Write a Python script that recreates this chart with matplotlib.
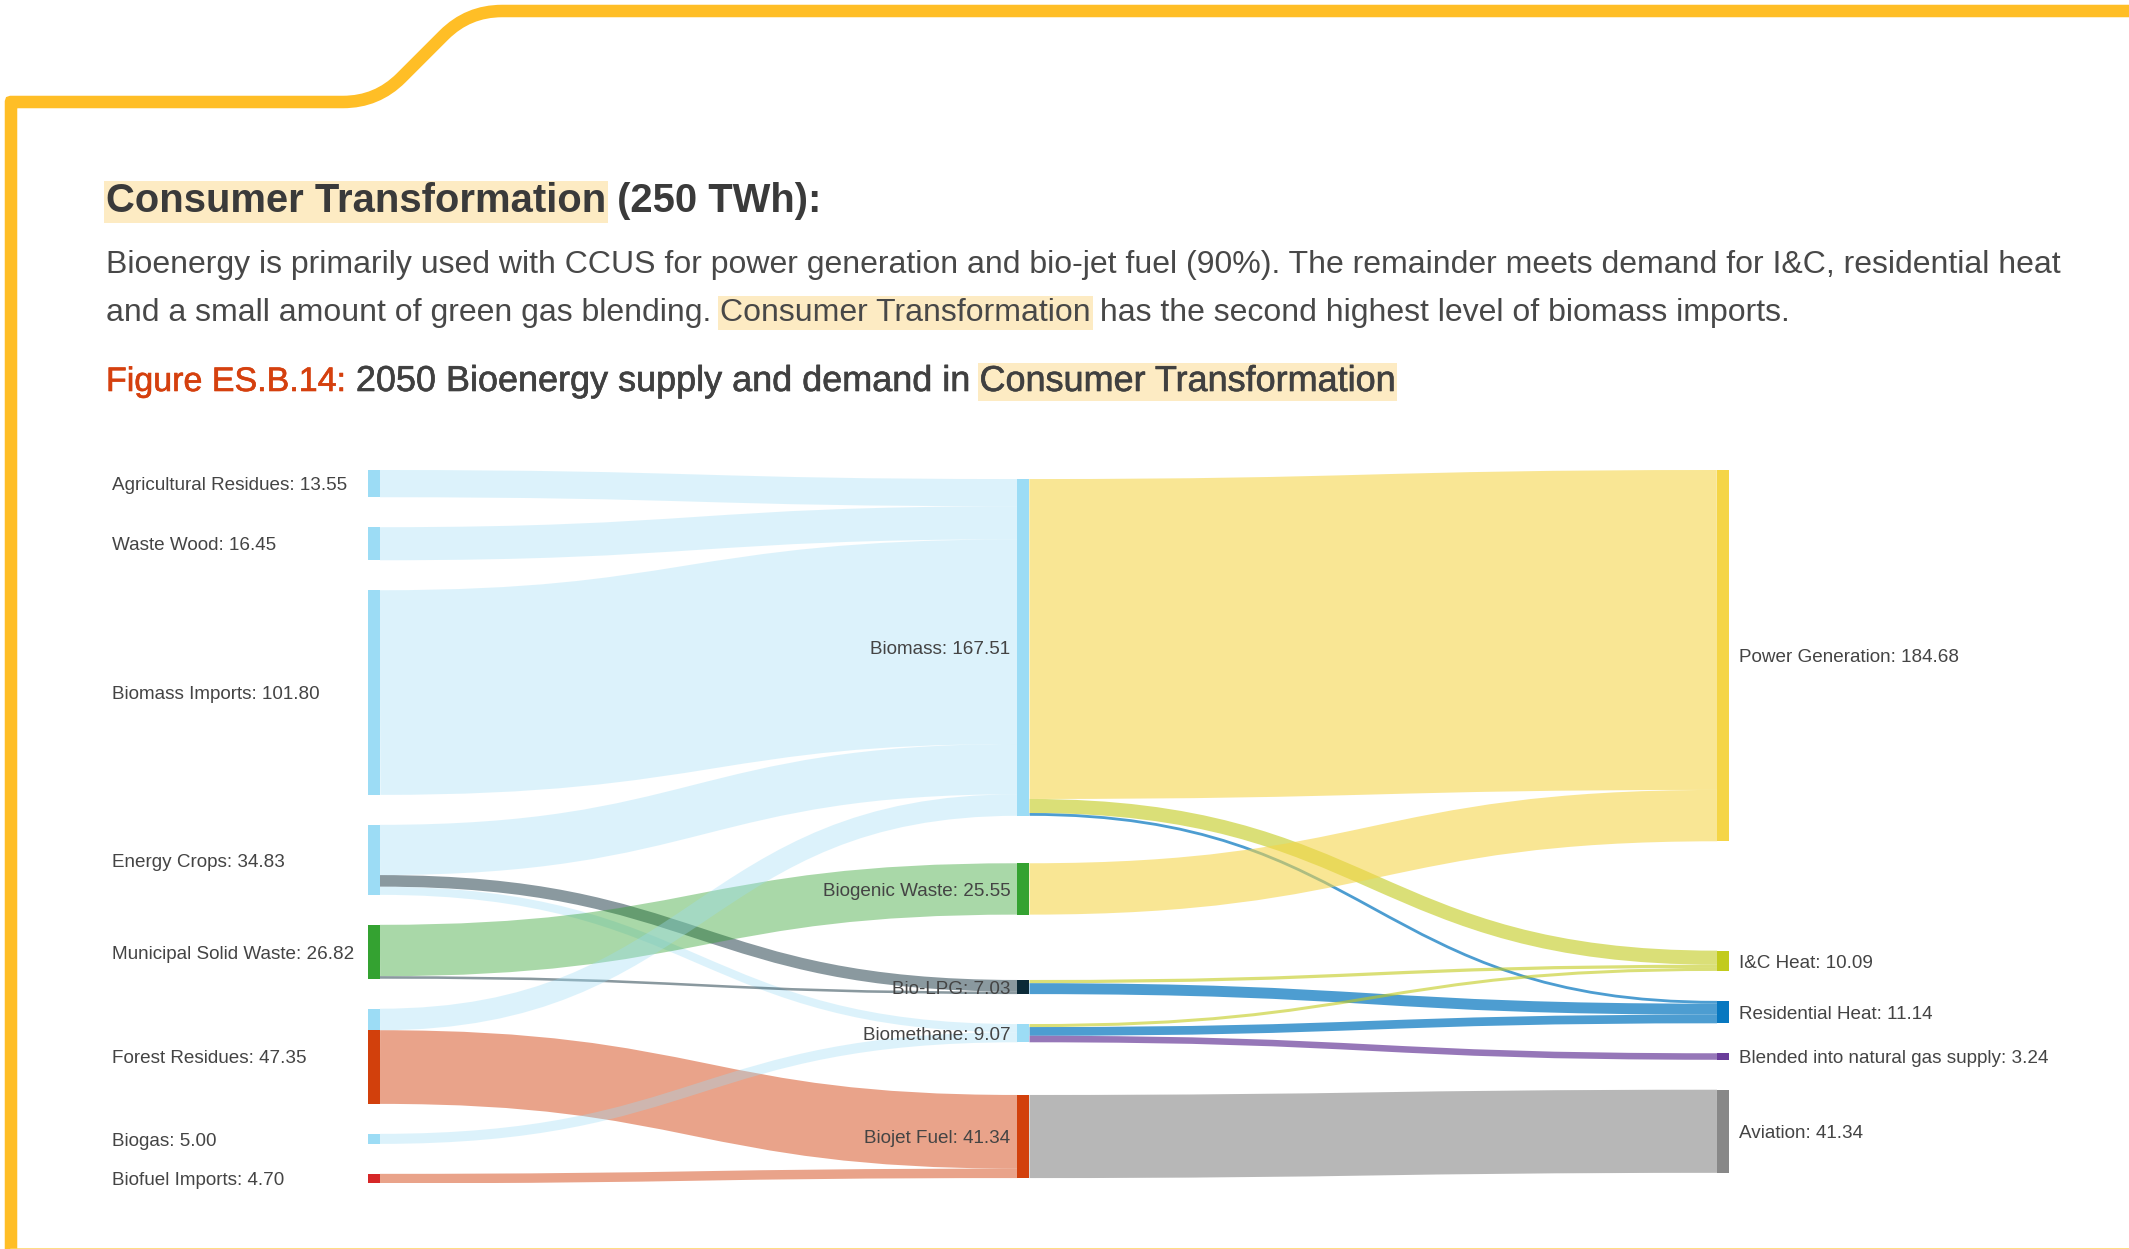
import matplotlib
matplotlib.use("Agg")
import matplotlib.pyplot as plt
import matplotlib.patheffects as pe
import matplotlib.transforms as mtransforms
from matplotlib.colors import to_rgba
from matplotlib.font_manager import FontProperties
from matplotlib.patches import PathPatch, Rectangle
from matplotlib.path import Path
import numpy as np

plt.rcParams['font.family'] = ['Liberation Sans', 'DejaVu Sans']

# ---- data ----
nodes = ["Agricultural Residues", "Waste Wood", "Biomass Imports", "Energy Crops",
         "Municipal Solid Waste", "Forest Residues", "Biogas", "Biofuel Imports",
         "Biomass", "Biogenic Waste", "Bio-LPG", "Biomethane", "Biojet Fuel",
         "Power Generation", "I&C Heat", "Residential Heat",
         "Blended into natural gas supply", "Aviation"]
node_values = [13.55, 16.45, 101.80, 34.83, 26.82, 47.35, 5.00, 4.70,
               167.51, 25.55, 7.03, 9.07, 41.34,
               184.68, 10.09, 11.14, 3.24, 41.34]
node_column = [0] * 8 + [1] * 5 + [2] * 5

link_source = ["Agricultural Residues", "Waste Wood", "Biomass Imports",
               "Energy Crops", "Energy Crops", "Energy Crops",
               "Municipal Solid Waste", "Municipal Solid Waste",
               "Forest Residues", "Forest Residues", "Biogas", "Biofuel Imports",
               "Biomass", "Biomass", "Biomass", "Biogenic Waste",
               "Bio-LPG", "Bio-LPG", "Biomethane", "Biomethane", "Biomethane",
               "Biojet Fuel"]
link_target = ["Biomass", "Biomass", "Biomass",
               "Biomass", "Bio-LPG", "Biomethane",
               "Biogenic Waste", "Bio-LPG",
               "Biomass", "Biojet Fuel", "Biomethane", "Biojet Fuel",
               "Power Generation", "I&C Heat", "Residential Heat", "Power Generation",
               "I&C Heat", "Residential Heat", "I&C Heat", "Residential Heat",
               "Blended into natural gas supply",
               "Aviation"]
link_value = [13.55, 16.45, 101.80,
              25.00, 5.76, 4.07,
              25.55, 1.27,
              10.71, 36.64, 5.00, 4.70,
              159.13, 6.99, 1.39, 25.55,
              1.60, 5.43, 1.50, 4.33, 3.24,
              41.34]

title_hl = "Consumer Transformation"
title_rest = " (250 TWh):"
para_line1 = ("Bioenergy is primarily used with CCUS for power generation and bio-jet fuel "
              "(90%). The remainder meets demand for I&C, residential heat")
para_line2 = ["and a small amount of green gas blending.", " ", "Consumer Transformation",
              " has the second highest level of biomass imports."]
fig_label = "Figure ES.B.14:"
fig_caption = " 2050 Bioenergy supply and demand in "
fig_caption_hl = "Consumer Transformation"

# ---- style ----
W, H, DPI = 2129, 1249, 100
light_blue = "#9cdcf5"
node_colors = {
    "Agricultural Residues": light_blue, "Waste Wood": light_blue,
    "Biomass Imports": light_blue, "Energy Crops": light_blue,
    "Municipal Solid Waste": "#34a231", "Forest Residues": None,
    "Biogas": light_blue, "Biofuel Imports": "#d62728",
    "Biomass": light_blue, "Biogenic Waste": "#34a231", "Bio-LPG": "#0b2a38",
    "Biomethane": light_blue, "Biojet Fuel": "#d2400c",
    "Power Generation": "#f5d547", "I&C Heat": "#c2cb1c",
    "Residential Heat": "#0878c0", "Blended into natural gas supply": "#6a3d9a",
    "Aviation": "#888888",
}
link_alpha = {
    "Biomass": 0.35, "Biogenic Waste": 0.42, "Bio-LPG": 0.48, "Biomethane": 0.35,
    "Biojet Fuel": 0.48, "Power Generation": 0.58, "I&C Heat": 0.6,
    "Residential Heat": 0.72, "Blended into natural gas supply": 0.7, "Aviation": 0.6,
}
node_pad = 14.9
node_gap = {"Biomass": 4.5, "Biogenic Waste": 23.6, "Bio-LPG": 32.5,
            "Biojet Fuel": 26.2, "I&C Heat": 54.4}
col_x = [0, 649.5, 1349]
node_w = 12
label_size = 13.6
label_color = "#444444"
border_color = "#ffbe26"
hl_color = "#fdebc3"

fig = plt.figure(figsize=(W / DPI, H / DPI), dpi=DPI)
fig.patch.set_facecolor("white")

# background axes in pixel units: border and header text
bax = fig.add_axes([0, 0, 1, 1])
bax.set_xlim(0, W)
bax.set_ylim(H, 0)
bax.axis("off")


def rounded_path(points, radii):
    verts = [points[0]]
    codes = [Path.MOVETO]
    for i in range(1, len(points) - 1):
        p = np.array(points[i], float)
        d1 = p - np.array(points[i - 1], float)
        d2 = np.array(points[i + 1], float) - p
        d1 /= np.hypot(*d1)
        d2 /= np.hypot(*d2)
        r = radii[i - 1]
        verts += [p - d1 * r, p, p + d2 * r]
        codes += [Path.LINETO, Path.CURVE3, Path.CURVE3]
    verts.append(points[-1])
    codes.append(Path.LINETO)
    return Path(verts, codes)


border = rounded_path([(11, H + 20), (11, 102), (377, 102), (468, 11), (W + 20, 11)],
                      [0.01, 34, 34])
bax.add_patch(PathPatch(border, fill=False, edgecolor=border_color, lw=12.5 * 72 / DPI,
                        joinstyle="miter", capstyle="butt"))
bax.plot([11, W], [H - 0.5, H - 0.5], color="#ffd35c", lw=2.5 * 72 / DPI)

renderer = fig.canvas.get_renderer()


def text_width(s, size, weight):
    prop = FontProperties(family=plt.rcParams['font.family'], size=size, weight=weight)
    w1 = renderer.get_text_width_height_descent("|" + s + "|", prop, ismath=False)[0]
    w0 = renderer.get_text_width_height_descent("||", prop, ismath=False)[0]
    return w1 - w0


def draw_runs(runs, x, base, weight="normal", stroke=0):
    for s, color, hl, size_px in runs:
        size = size_px * 72 / DPI
        w = text_width(s, size, weight)
        if hl:
            bax.add_patch(Rectangle((x - 2, base - 0.78 * size_px), w + 4, 1.05 * size_px,
                                    facecolor=hl_color, edgecolor="none", zorder=1))
        t = bax.text(x, base, s, fontsize=size, fontweight=weight, color=color,
                     ha="left", va="baseline", zorder=2)
        if stroke:
            t.set_path_effects([pe.withStroke(linewidth=stroke, foreground=color)])
        x += w


draw_runs([(title_hl, "#3a3a3a", True, 40), (title_rest, "#3a3a3a", False, 40)],
          106, 212, weight="bold")
draw_runs([(para_line1, "#484848", False, 32)], 106, 273)
draw_runs([(para_line2[0], "#484848", False, 32), (para_line2[1], "#484848", False, 32),
           (para_line2[2], "#484848", True, 32), (para_line2[3], "#484848", False, 32)],
          106, 321)
draw_runs([(fig_label, "#d5400e", False, 34), (fig_caption, "#404040", False, 36),
           (fig_caption_hl, "#404040", True, 36)], 106, 391, stroke=0.45)

# ---- sankey layout ----
idx = {n: i for i, n in enumerate(nodes)}
n_in = np.zeros(len(nodes))
n_out = np.zeros(len(nodes))
for s, t, v in zip(link_source, link_target, link_value):
    n_out[idx[s]] += v
    n_in[idx[t]] += v
height = np.maximum(n_in, n_out)

y0 = np.zeros(len(nodes))
bottoms = []
for c in range(3):
    y = 0.0
    first = True
    for i, n in enumerate(nodes):
        if node_column[i] != c:
            continue
        y += node_gap.get(n, 0.0 if first else node_pad)
        y0[i] = y
        y += height[i]
        first = False
    bottoms.append(y)
total = max(bottoms)

ax = fig.add_axes([368 / W, 1 - 1183.3 / H, 1361 / W, 713.3 / H])
ax.set_xlim(0, 1361)
ax.set_ylim(total, 0)
ax.axis("off")
ax.patch.set_alpha(0)

L = len(link_value)
link_sy = np.zeros(L)
link_ty = np.zeros(L)
out_off = y0.copy()
in_off = y0.copy()
for l in sorted(range(L), key=lambda l: y0[idx[link_target[l]]]):
    s = idx[link_source[l]]
    link_sy[l] = out_off[s] + link_value[l] / 2
    out_off[s] += link_value[l]
for l in sorted(range(L), key=lambda l: y0[idx[link_source[l]]]):
    t = idx[link_target[l]]
    link_ty[l] = in_off[t] + link_value[l] / 2
    in_off[t] += link_value[l]

k = abs(ax.transData.transform((0, 1))[1] - ax.transData.transform((0, 0))[1])

for l in range(L):
    s, t = idx[link_source[l]], idx[link_target[l]]
    sx = col_x[node_column[s]] + node_w
    tx = col_x[node_column[t]]
    xm = (sx + tx) / 2
    path = Path([(sx, link_sy[l]), (xm, link_sy[l]), (xm, link_ty[l]), (tx, link_ty[l])],
                [Path.MOVETO, Path.CURVE4, Path.CURVE4, Path.CURVE4])
    col = to_rgba(node_colors[link_target[l]], link_alpha[link_target[l]])
    ax.add_patch(PathPatch(path, fill=False, edgecolor=col,
                           lw=link_value[l] * k * 72 / DPI, capstyle="butt", zorder=2))

for i, n in enumerate(nodes):
    x = col_x[node_column[i]]
    if node_colors[n] is None:
        for l in range(L):
            if link_source[l] == n:
                ax.add_patch(Rectangle((x, link_sy[l] - link_value[l] / 2), node_w,
                                       link_value[l], facecolor=node_colors[link_target[l]],
                                       edgecolor="none", zorder=3))
    else:
        ax.add_patch(Rectangle((x, y0[i]), node_w, height[i], facecolor=node_colors[n],
                               edgecolor="none", zorder=3))

base_tr = mtransforms.offset_copy(ax.transData, fig=fig, y=-0.358 * label_size, units="points")
for i, n in enumerate(nodes):
    c = node_column[i]
    yc = y0[i] + height[i] / 2
    txt = f"{n}: {node_values[i]:.2f}"
    if c == 0:
        x, ha = 112 - 368, "left"
    elif c == 1:
        x, ha = col_x[1] - 7, "right"
    else:
        x, ha = col_x[2] + node_w + 10, "left"
    ax.text(x, yc, txt, transform=base_tr, fontsize=label_size, color=label_color,
            ha=ha, va="baseline", zorder=4, clip_on=False)

fig.savefig("out.png", dpi=DPI, facecolor="white")
